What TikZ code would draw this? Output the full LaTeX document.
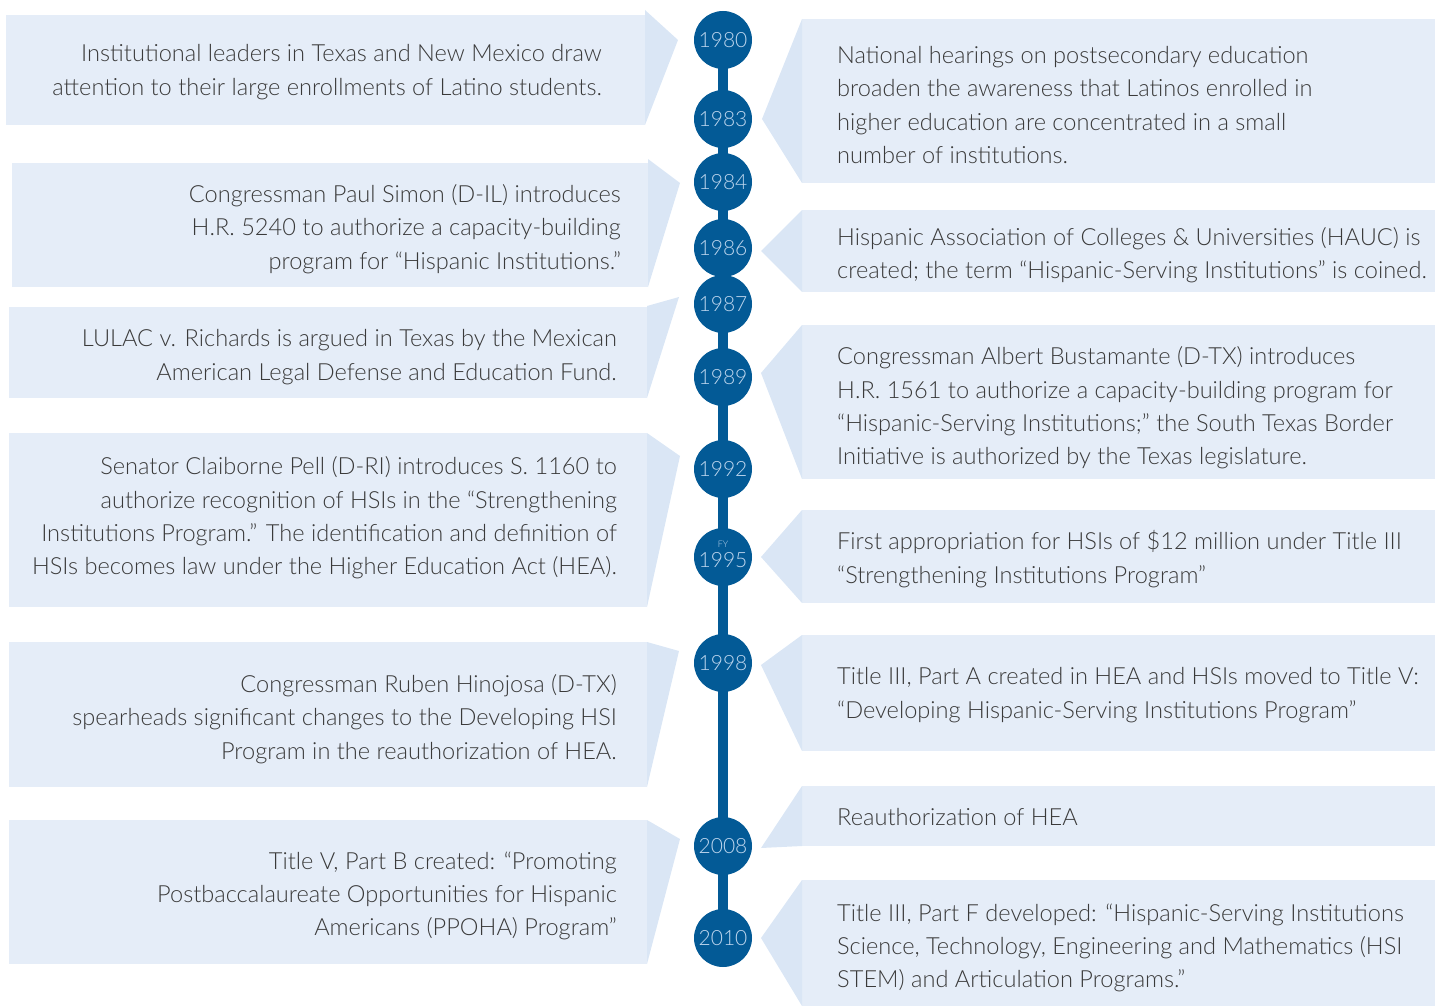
\documentclass[tikz,border=0pt]{standalone}
\usepackage{fontspec}
\IfFontExistsTF{Lato Light}{\setmainfont{Lato Light}\newfontfamily\yearfont{Lato Light}}{\setmainfont{Lato}\newfontfamily\yearfont{Lato}}
\definecolor{tlblue}{RGB}{3,90,150}
\definecolor{boxbg}{RGB}{229,237,248}
\definecolor{tipbg}{RGB}{218,230,245}
\definecolor{ink}{RGB}{58,58,58}
\definecolor{yearink}{RGB}{190,214,238}
\tikzset{
  yearnode/.style={circle, fill=tlblue, minimum size=58pt, inner sep=0pt,
    text=yearink, font=\yearfont\fontsize{21}{21}\selectfont},
  spine/.style={draw=tlblue, line width=10pt},
  panel/.style={fill=boxbg},
  pointer/.style={fill=tipbg},
  ltext/.style={anchor=east, align=right, text=ink, inner sep=0pt,
    font=\fontsize{23.6}{33.3}\selectfont},
  rtext/.style={anchor=west, align=left, text=ink, inner sep=0pt,
    font=\fontsize{23.6}{33.3}\selectfont},
}
\begin{document}
\begin{tikzpicture}[x=1pt,y=-1pt]
\useasboundingbox (0,0) rectangle (1437,1006);

% ---------- left panels ----------
\fill[panel] (6,15) rectangle (645,125);
\fill[pointer] (645,10) -- (678,40) -- (645,125) -- cycle;
\fill[panel] (12,163) rectangle (648,287);
\fill[pointer] (648,159) -- (680,183) -- (648,287) -- cycle;
\fill[panel] (9,307) rectangle (647,398);
\fill[pointer] (647,306) -- (679,297) -- (647,398) -- cycle;
\fill[panel] (9,433) rectangle (647,607);
\fill[pointer] (647,433) -- (680,456) -- (647,607) -- cycle;
\fill[panel] (9,642) rectangle (647,787);
\fill[pointer] (647,642) -- (679,651) -- (647,787) -- cycle;
\fill[panel] (9,820) rectangle (647,964);
\fill[pointer] (647,820) -- (680,839) -- (647,964) -- cycle;

% ---------- right panels ----------
\fill[panel] (802,19) rectangle (1435,183);
\fill[pointer] (802,19) -- (762,119) -- (802,183) -- cycle;
\fill[panel] (802,210) rectangle (1435,292);
\fill[pointer] (802,210) -- (761,251) -- (802,292) -- cycle;
\fill[panel] (802,325) rectangle (1435,479);
\fill[pointer] (802,325) -- (761,373) -- (802,479) -- cycle;
\fill[panel] (802,510) rectangle (1435,603);
\fill[pointer] (802,510) -- (761,557) -- (802,603) -- cycle;
\fill[panel] (802,635) rectangle (1435,751);
\fill[pointer] (802,635) -- (761,665) -- (802,751) -- cycle;
\fill[panel] (802,786) rectangle (1435,846);
\fill[pointer] (802,786) -- (761,848) -- (802,846) -- cycle;
\fill[panel] (802,880) rectangle (1435,1006);
\fill[pointer] (802,880) -- (761,938) -- (802,1006) -- cycle;

% ---------- timeline ----------
\coordinate (top) at (723,40);
\coordinate (bottom) at (723,938);
\draw[spine] (top) -- (bottom);
\node[yearnode] (y1980) at (723,40)  {1980};
\node[yearnode] (y1983) at (723,119) {1983};
\node[yearnode] (y1984) at (723,182) {1984};
\node[yearnode] (y1986) at (723,248) {1986};
\node[yearnode] (y1987) at (723,304) {1987};
\node[yearnode] (y1989) at (723,377) {1989};
\node[yearnode] (y1992) at (723,469) {1992};
\node[yearnode] (y1995) at (723,557) {};
\node[text=yearink, font=\yearfont\fontsize{21}{21}\selectfont] (n1995) at (723,560) {1995};
\node[text=yearink, font=\yearfont\fontsize{9}{9}\selectfont, inner sep=0pt] (fy) at (723,544) {FY};
\node[yearnode] (y1998) at (723,663) {1998};
\node[yearnode] (y2008) at (723,846) {2008};
\node[yearnode] (y2010) at (723,938) {2010};

% ---------- left texts ----------
\node[ltext] (t1980) at (602,72) {Institutional leaders in Texas and New Mexico draw\\attention to their large enrollments of Latino students.};
\node[ltext] (t1984) at (621,229) {Congressman Paul Simon (D-IL) introduces\\H.R. 5240 to authorize a capacity-building\\program for “Hispanic Institutions.”};
\node[ltext] (t1987) at (617,357) {LULAC v. Richards is argued in Texas by the Mexican\\American Legal Defense and Education Fund.};
\node[ltext] (t1992) at (617,518) {Senator Claiborne Pell (D-RI) introduces S. 1160 to\\authorize recognition of HSIs in the “Strengthening\\Institutions Program.” The identification and definition of\\HSIs becomes law under the Higher Education Act (HEA).};
\node[ltext] (t1998) at (617,719) {Congressman Ruben Hinojosa (D-TX)\\spearheads significant changes to the Developing HSI\\Program in the reauthorization of HEA.};
\node[ltext] (t2008) at (617,896) {Title V, Part B created: “Promoting\\Postbaccalaureate Opportunities for Hispanic\\Americans (PPOHA) Program”};

% ---------- right texts ----------
\node[rtext] (t1983) at (837,105) {National hearings on postsecondary education\\broaden the awareness that Latinos enrolled in\\higher education are concentrated in a small\\number of institutions.};
\node[rtext] (t1986) at (837,255) {Hispanic Association of Colleges \& Universities (HAUC) is\\created; the term “Hispanic-Serving Institutions” is coined.};
\node[rtext] (t1989) at (837,408) {Congressman Albert Bustamante (D-TX) introduces\\H.R. 1561 to authorize a capacity-building program for\\“Hispanic-Serving Institutions;” the South Texas Border\\Initiative is authorized by the Texas legislature.};
\node[rtext] (t1995) at (837,559) {First appropriation for HSIs of \$12 million under Title III\\“Strengthening Institutions Program”};
\node[rtext] (t1998r) at (837,695) {Title III, Part A created in HEA and HSIs moved to Title V:\\“Developing Hispanic-Serving Institutions Program”};
\node[rtext] (t2008r) at (837,817) {Reauthorization of HEA};
\node[rtext] (t2010) at (837,948) {Title III, Part F developed: “Hispanic-Serving Institutions\\Science, Technology, Engineering and Mathematics (HSI\\STEM) and Articulation Programs.”};
\end{tikzpicture}
\end{document}
